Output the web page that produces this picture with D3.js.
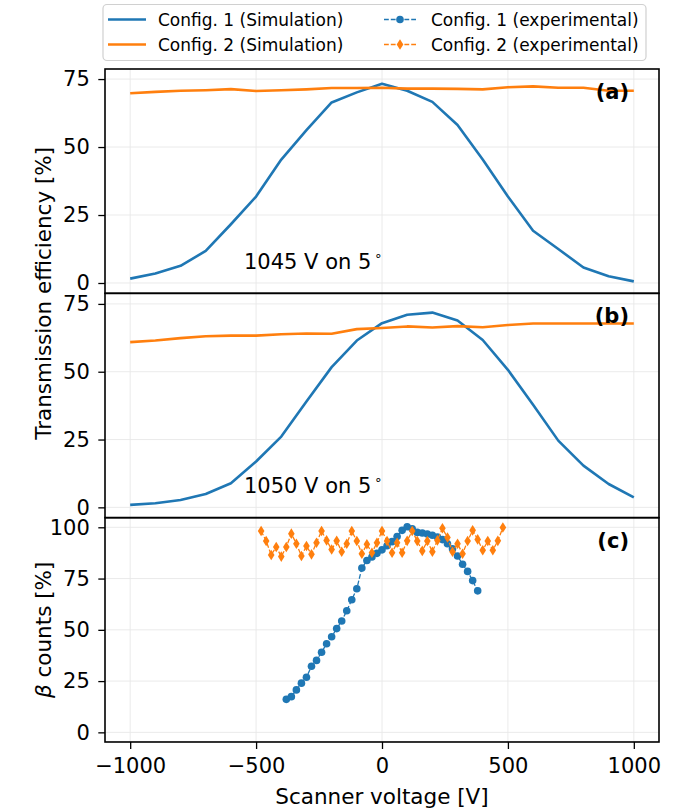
<!DOCTYPE html>
<html><head><meta charset="utf-8">
<script src="https://cdn.jsdelivr.net/npm/d3@7"></script>
<style>
body{margin:0;background:#fff}
svg{display:block}
text{font-family:"DejaVu Sans",sans-serif;fill:#000}
</style>
</head><body>
<svg id="chart" width="682" height="812"></svg>
<script>
// ---------- data ----------
const simVoltage = [-1000,-900,-800,-700,-600,-500,-400,-300,-200,-100,0,100,200,300,400,500,600,700,800,900,1000];
const simA_config1 = [1.6,3.5,6.3,11.8,21.6,31.8,45.4,56.2,66.4,70.1,73.3,70.7,66.6,58.1,45.4,31.8,19.2,12.5,5.7,2.5,0.6];
const simA_config2 = [69.8,70.3,70.7,70.9,71.3,70.6,70.9,71.2,71.7,71.7,71.8,71.5,71.5,71.4,71.2,72.0,72.3,71.8,71.8,70.7,70.7];
const simB_config1 = [0.9,1.5,2.7,4.9,8.9,16.9,26.1,39.0,51.7,61.5,67.9,71.0,71.8,68.9,61.7,50.7,37.8,24.6,15.4,8.6,3.7];
const simB_config2 = [60.9,61.5,62.4,63.1,63.3,63.3,63.8,64.1,64.0,65.7,66.1,66.7,66.3,66.8,66.4,67.2,67.8,67.8,67.8,67.8,67.8];

const exp1Voltage = [-380,-360,-340,-320,-300,-280,-260,-240,-220,-200,-180,-160,-140,-120,-100,-80,-60,-40,-20,0,20,40,60,80,100,120,140,160,180,200,220,240,260,280,300,320,340,360,380];
const exp1Counts = [16.1,17.4,20.7,24.0,26.9,32.2,35.1,39.1,43.2,46.6,50.6,54.3,59.3,64.7,70.0,80.1,83.8,85.5,87.3,89.0,91.0,93.0,95.5,98.5,100.3,99.3,97.5,97.2,96.7,96.1,95.3,94.0,92.0,89.5,86.0,82.0,78.5,74.0,69.0];

const exp2Voltage = [-480,-460,-440,-420,-400,-380,-360,-340,-320,-300,-280,-260,-240,-220,-200,-180,-160,-140,-120,-100,-80,-60,-40,-20,0,20,40,60,80,100,120,140,160,180,200,220,240,260,280,300,320,340,360,380,400,420,440,460,480];
const exp2Counts = [98.2,93.3,86.5,90.4,85.7,90.4,96.9,92.0,86.0,90.9,86.8,92.5,98.2,93.6,89.2,93.4,88.1,92.0,98.2,93.3,87.1,91.7,87.6,92.5,98.2,93.3,87.6,92.5,87.6,93.4,98.2,93.3,88.5,93.3,88.1,93.6,99.5,95.0,88.1,92.0,87.1,93.3,98.5,94.1,88.8,93.3,88.8,93.4,99.9];

const xTicks = [-1000,-500,0,500,1000];
const yTicksAB = [0,25,50,75];
const yTicksC = [0,25,50,75,100];
const legendLabels = ["Config. 1 (Simulation)","Config. 2 (Simulation)","Config. 1 (experimental)","Config. 2 (experimental)"];
const panelLabels = ["(a)","(b)","(c)"];
const noteA = "1045 V on 5";
const noteB = "1050 V on 5";

// ---------- layout ----------
const C1 = "#1f77b4", C2 = "#ff7f0e";
const L = 105, R = 659, TOP = 69, PH = 224.33;
const TICK_FS = 21, LABEL_FS = 21.5;
const svg = d3.select("#chart");
const x = d3.scaleLinear().domain([-1100,1100]).range([L,R]);
const panels = [
  {top:TOP, dom:[-3.8,78.7], ticks:yTicksAB},
  {top:TOP+PH, dom:[-3.8,78.9], ticks:yTicksAB},
  {top:TOP+2*PH, dom:[-4.7,104.7], ticks:yTicksC}
];
panels.forEach(p=>{ p.y = d3.scaleLinear().domain(p.dom).range([p.top+PH,p.top]); });

function drawGrid(g,p){
  g.selectAll(".gx").data(xTicks).enter().append("line")
    .attr("x1",d=>x(d)).attr("x2",d=>x(d)).attr("y1",p.top).attr("y2",p.top+PH)
    .attr("stroke","#e8e8e8").attr("stroke-width",0.9);
  g.selectAll(".gy").data(p.ticks).enter().append("line")
    .attr("x1",L).attr("x2",R).attr("y1",d=>p.y(d)).attr("y2",d=>p.y(d))
    .attr("stroke","#e8e8e8").attr("stroke-width",0.9);
}
function yAxis(p){
  const g = svg.append("g").attr("transform",`translate(${L},0)`)
    .call(d3.axisLeft(p.y).tickValues(p.ticks).tickSize(6.7).tickPadding(8.5).tickFormat(d3.format("d")));
  g.select(".domain").remove();
  g.selectAll(".tick line").attr("stroke","#000").attr("stroke-width",1.3);
  g.selectAll(".tick text").attr("font-size",TICK_FS).attr("font-family","DejaVu Sans").attr("fill","#000");
}
function frame(p){
  svg.append("rect").attr("x",L).attr("y",p.top).attr("width",R-L).attr("height",PH)
    .attr("fill","none").attr("stroke","#000").attr("stroke-width",1.6);
}
function simLine(p, vals, color){
  const line = d3.line().x((d,i)=>x(simVoltage[i])).y(d=>p.y(d));
  svg.append("path").datum(vals).attr("d",line).attr("fill","none")
    .attr("stroke",color).attr("stroke-width",2.6).attr("stroke-linejoin","round");
}

// panels a,b
[0,1].forEach(k=>{
  const p = panels[k];
  const g = svg.append("g"); drawGrid(g,p);
  simLine(p, k===0?simA_config1:simB_config1, C1);
  simLine(p, k===0?simA_config2:simB_config2, C2);
});
// panel c
{
  const p = panels[2];
  const g = svg.append("g"); drawGrid(g,p);
  const l1 = d3.line().x((d,i)=>x(exp1Voltage[i])).y(d=>p.y(d));
  svg.append("path").datum(exp1Counts).attr("d",l1).attr("fill","none")
    .attr("stroke",C1).attr("stroke-width",1.3).attr("stroke-dasharray","4.8,2");
  svg.append("g").selectAll("circle").data(exp1Counts).enter().append("circle")
    .attr("cx",(d,i)=>x(exp1Voltage[i])).attr("cy",d=>p.y(d)).attr("r",3.8).attr("fill",C1);
  const l2 = d3.line().x((d,i)=>x(exp2Voltage[i])).y(d=>p.y(d));
  svg.append("path").datum(exp2Counts).attr("d",l2).attr("fill","none")
    .attr("stroke",C2).attr("stroke-width",1.3).attr("stroke-dasharray","4.8,2");
  svg.append("g").selectAll("path").data(exp2Counts).enter().append("path")
    .attr("d","M0,-5.3L3.3,0L0,5.3L-3.3,0Z")
    .attr("transform",(d,i)=>`translate(${x(exp2Voltage[i])},${p.y(d)})`).attr("fill",C2);
}
panels.forEach(p=>{ frame(p); yAxis(p); });

// x axis
{
  const g = svg.append("g").attr("transform",`translate(0,${TOP+3*PH})`)
    .call(d3.axisBottom(x).tickValues(xTicks).tickSize(7).tickPadding(9).tickFormat(d3.format("d")));
  g.select(".domain").remove();
  g.selectAll(".tick line").attr("stroke","#000").attr("stroke-width",1.3);
  g.selectAll(".tick text").attr("font-size",TICK_FS).attr("font-family","DejaVu Sans").attr("fill","#000");
}

// axis labels
svg.append("text").attr("x",(L+R)/2).attr("y",803.5).attr("text-anchor","middle")
  .attr("font-size",LABEL_FS).text("Scanner voltage [V]");
svg.append("text").attr("transform",`translate(43,${TOP+PH}) rotate(-90)`)
  .attr("text-anchor","middle").attr("dominant-baseline","central").attr("font-size",LABEL_FS)
  .text("Transmission efficiency [%]");
{
  const t = svg.append("text").attr("transform",`translate(43,${TOP+2.5*PH}) rotate(-90)`)
    .attr("text-anchor","middle").attr("dominant-baseline","central").attr("font-size",LABEL_FS);
  t.append("tspan").attr("font-style","italic").text("β");
  t.append("tspan").text(" counts [%]");
}

// panel labels
panelLabels.forEach((s,k)=>{
  svg.append("text").attr("x",629).attr("y",panels[k].top+30).attr("text-anchor","end")
    .attr("font-size",TICK_FS).attr("font-weight","bold").text(s);
});
// notes
[[noteA,0],[noteB,1]].forEach(([s,k])=>{
  const t = svg.append("text").attr("x",244).attr("y",panels[k].top+200).attr("font-size",TICK_FS);
  t.append("tspan").text(s);
  t.append("tspan").attr("font-size",13).attr("dx",3).attr("dy",-9).text("∘");
});

// legend
{
  const g = svg.append("g");
  g.append("rect").attr("x",103).attr("y",4.5).attr("width",543).attr("height",56).attr("rx",4)
    .attr("fill","#fff").attr("fill-opacity",0.8).attr("stroke","#d0d0d0").attr("stroke-width",1.2);
  const rows = [19.5,44.5];
  [C1,C2].forEach((c,i)=>{
    g.append("line").attr("x1",108).attr("x2",146).attr("y1",rows[i]).attr("y2",rows[i])
      .attr("stroke",c).attr("stroke-width",2.6);
    g.append("text").attr("x",158).attr("y",rows[i]).attr("dy","0.36em").attr("font-size",17).text(legendLabels[i]);
  });
  [C1,C2].forEach((c,i)=>{
    g.append("line").attr("x1",384).attr("x2",416).attr("y1",rows[i]).attr("y2",rows[i])
      .attr("stroke",c).attr("stroke-width",1.3).attr("stroke-dasharray","4.8,2");
    if(i===0) g.append("circle").attr("cx",400).attr("cy",rows[i]).attr("r",3.8).attr("fill",c);
    else g.append("path").attr("d","M0,-5.3L3.3,0L0,5.3L-3.3,0Z").attr("transform",`translate(400,${rows[i]})`).attr("fill",c);
    g.append("text").attr("x",431).attr("y",rows[i]).attr("dy","0.36em").attr("font-size",17).text(legendLabels[i+2]);
  });
}
</script>
</body></html>
